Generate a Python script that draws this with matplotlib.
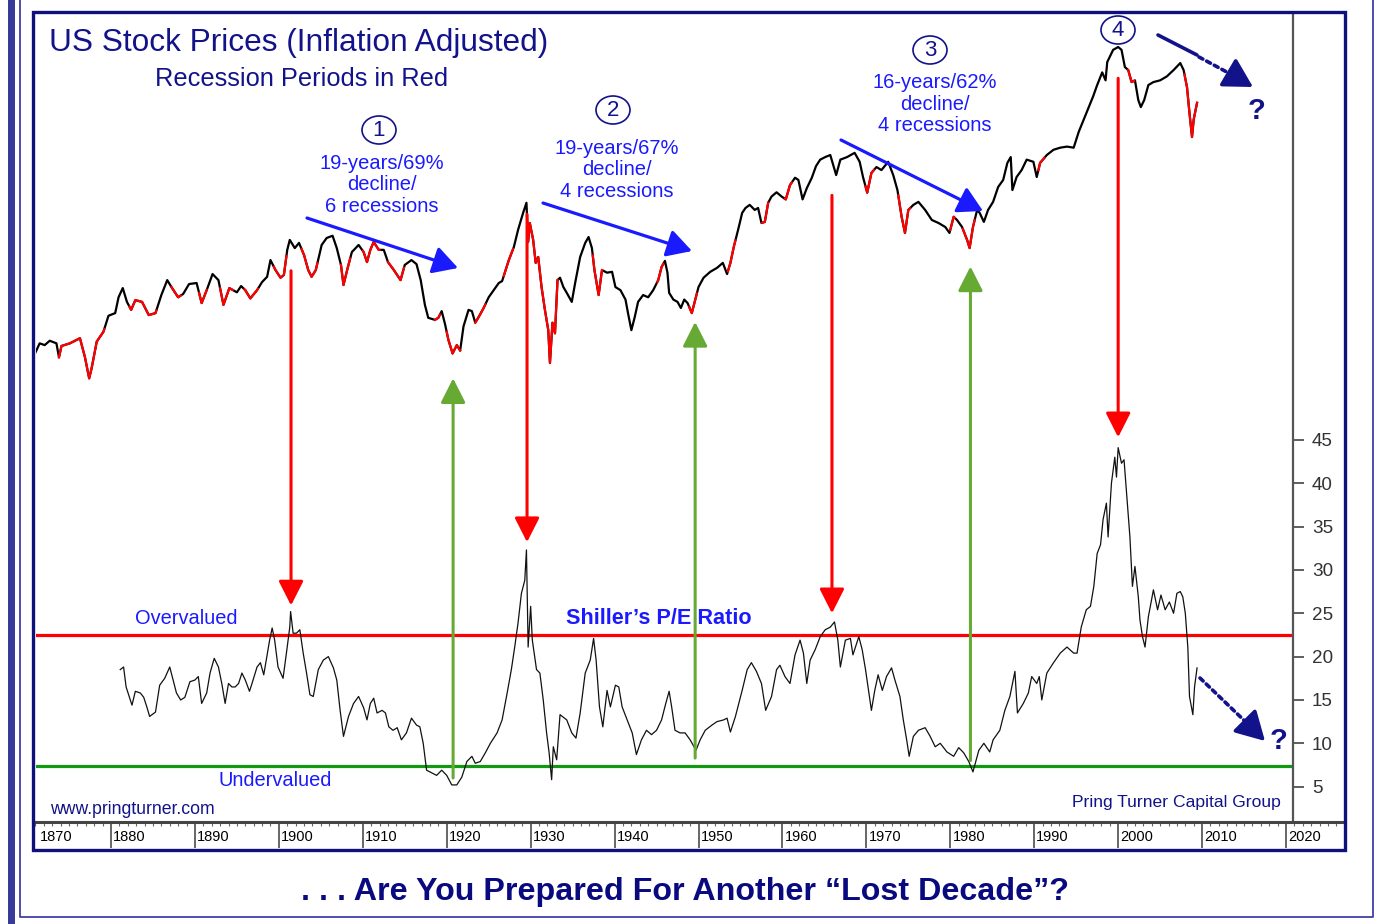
import numpy as np
import matplotlib
matplotlib.use("Agg")
import matplotlib.pyplot as plt
from matplotlib.patches import Rectangle, Ellipse, FancyArrowPatch
from matplotlib.lines import Line2D
from matplotlib import font_manager

# ---------------- data ----------------
price_years = [1871.0, 1871.5, 1872.1, 1872.7, 1873.5, 1873.8, 1874.1, 1875.1, 1876.3, 1876.9,
               1877.4, 1877.7, 1878.3, 1879.1, 1879.7, 1880.5, 1880.9, 1881.4, 1881.9, 1882.4,
               1882.9, 1883.7, 1884.5, 1885.3, 1886.0, 1886.7, 1887.2, 1888.0, 1888.6, 1889.3,
               1890.2, 1890.8, 1891.4, 1892.1, 1892.8, 1893.4, 1894.1, 1895.0, 1895.5, 1896.0,
               1896.6, 1897.4, 1898.0, 1898.6, 1899.0, 1899.6, 1900.2, 1900.6, 1901.0, 1901.3,
               1901.9, 1902.4, 1903.0, 1903.5, 1903.9, 1904.4, 1905.1, 1905.7, 1906.4, 1906.9,
               1907.4, 1907.7, 1908.2, 1908.7, 1909.5, 1910.1, 1910.5, 1910.9, 1911.3, 1911.9,
               1912.5, 1913.0, 1913.7, 1914.5, 1915.0, 1915.8, 1916.4, 1916.9, 1917.4, 1917.8,
               1918.6, 1919.0, 1919.4, 1919.8, 1920.2, 1920.7, 1921.2, 1921.6, 1922.0, 1922.6,
               1923.0, 1923.4, 1923.8, 1924.4, 1925.0, 1925.6, 1926.2, 1926.6, 1927.4, 1928.0,
               1928.5, 1929.1, 1929.5, 1929.7, 1929.9, 1930.3, 1930.6, 1930.9, 1931.3, 1931.7,
               1932.1, 1932.3, 1932.6, 1932.9, 1933.2, 1933.5, 1933.9, 1934.3, 1934.9, 1935.3,
               1935.9, 1936.5, 1936.9, 1937.3, 1937.6, 1938.1, 1938.5, 1939.1, 1939.7, 1940.1,
               1940.7, 1941.3, 1941.6, 1942.0, 1942.4, 1942.8, 1943.4, 1944.0, 1944.6, 1945.2,
               1945.6, 1946.0, 1946.3, 1946.5, 1947.0, 1947.5, 1947.9, 1948.3, 1948.7, 1949.2,
               1949.6, 1950.0, 1950.6, 1951.4, 1952.2, 1952.9, 1953.4, 1953.8, 1954.2, 1954.8,
               1955.2, 1955.6, 1956.1, 1956.7, 1957.1, 1957.5, 1957.9, 1958.3, 1958.7, 1959.3,
               1959.9, 1960.4, 1960.9, 1961.5, 1961.9, 1962.4, 1962.9, 1963.5, 1964.0, 1964.5,
               1965.1, 1965.7, 1966.4, 1966.9, 1967.7, 1968.6, 1969.2, 1969.6, 1970.1, 1970.6,
               1971.2, 1971.8, 1972.6, 1973.2, 1973.7, 1974.2, 1974.6, 1975.0, 1975.6, 1976.2,
               1977.0, 1977.8, 1978.6, 1979.4, 1979.9, 1980.4, 1980.8, 1981.4, 1982.0, 1982.3,
               1982.7, 1983.2, 1983.5, 1984.0, 1984.5, 1985.1, 1985.7, 1986.3, 1986.8, 1987.2,
               1987.4, 1987.9, 1988.5, 1989.1, 1989.9, 1990.3, 1990.7, 1991.5, 1992.3, 1993.1,
               1993.9, 1994.7, 1995.3, 1995.9, 1996.5, 1997.0, 1997.5, 1998.1, 1998.5, 1998.7,
               1999.4, 2000.0, 2000.4, 2000.8, 2001.2, 2001.6, 2002.0, 2002.4, 2002.7, 2003.1,
               2003.6, 2004.2, 2005.0, 2005.8, 2006.6, 2007.4, 2007.8, 2008.2, 2008.5, 2008.8,
               2009.0, 2009.4]
price_values = [110, 120, 118, 123, 120, 105, 117, 120, 126, 105,
                86, 95, 122, 134, 156, 160, 186, 203, 178, 165,
                181, 178, 157, 160, 190, 219, 205, 186, 192, 211,
                213, 176, 199, 232, 219, 173, 203, 195, 207, 199,
                184, 199, 215, 226, 265, 241, 224, 230, 292, 321,
                297, 312, 278, 241, 226, 241, 306, 327, 334, 297,
                253, 209, 246, 286, 306, 286, 260, 292, 315, 292,
                292, 260, 241, 219, 253, 265, 255, 219, 173, 153,
                150, 153, 163, 144, 124, 109, 118, 112, 141, 165,
                163, 146, 154, 168, 186, 199, 213, 217, 265, 300,
                353, 415, 457, 315, 377, 321, 258, 273, 205, 165,
                136, 99.5, 146, 132, 219, 224, 205, 194, 178, 213,
                273, 312, 330, 297, 241, 190, 241, 235, 237, 205,
                199, 182, 160, 136, 154, 178, 190, 186, 199, 219,
                248, 263, 235, 194, 182, 178, 168, 182, 176, 160,
                181, 205, 224, 237, 246, 258, 232, 258, 300, 363,
                415, 435, 448, 427, 435, 377, 381, 457, 485, 505,
                485, 472, 541, 580, 568, 472, 525, 580, 648, 689,
                706, 720, 595, 689, 706, 735, 675, 584, 503, 607,
                642, 624, 675, 595, 516, 400, 343, 427, 448, 461,
                427, 388, 377, 363, 343, 400, 388, 363, 321, 297,
                363, 427, 415, 381, 427, 461, 531, 568, 668, 706,
                516, 584, 624, 689, 675, 584, 668, 720, 757, 772,
                780, 772, 897, 1010, 1136, 1253, 1401, 1580, 1465, 1744,
                1958, 2012, 1958, 1663, 1615, 1441, 1465, 1214, 1136, 1214,
                1401, 1441, 1465, 1521, 1615, 1727, 1615, 1374, 1072, 854,
                1010, 1183]

pe_years = [1881.1, 1881.5, 1881.8, 1882.5, 1882.9, 1883.5, 1883.9, 1884.3, 1884.6, 1885.3,
            1885.8, 1886.4, 1887.0, 1887.4, 1887.8, 1888.3, 1888.8, 1889.4, 1890.0, 1890.4,
            1890.8, 1891.4, 1891.8, 1892.3, 1892.8, 1893.2, 1893.6, 1894.0, 1894.4, 1894.8,
            1895.2, 1895.6, 1896.0, 1896.5, 1896.8, 1897.4, 1897.8, 1898.2, 1898.6, 1898.9,
            1899.2, 1899.5, 1899.9, 1900.5, 1900.9, 1901.3, 1901.4, 1901.7, 1902.1, 1902.5,
            1902.9, 1903.3, 1903.7, 1904.1, 1904.7, 1905.3, 1905.9, 1906.5, 1906.9, 1907.3,
            1907.7, 1908.3, 1908.9, 1909.5, 1910.1, 1910.5, 1910.9, 1911.3, 1911.7, 1912.3,
            1912.7, 1913.1, 1913.6, 1914.1, 1914.6, 1915.2, 1915.8, 1916.4, 1916.8, 1917.2,
            1917.6, 1918.2, 1918.8, 1919.4, 1920.0, 1920.6, 1921.2, 1921.8, 1922.4, 1923.0,
            1923.4, 1924.0, 1924.6, 1925.2, 1926.0, 1926.6, 1927.2, 1927.7, 1928.1, 1928.5,
            1928.9, 1929.3, 1929.5, 1929.7, 1930.0, 1930.2, 1930.7, 1931.1, 1931.5, 1931.9,
            1932.2, 1932.5, 1932.7, 1933.1, 1933.5, 1934.3, 1934.9, 1935.4, 1935.9, 1936.5,
            1937.1, 1937.5, 1937.8, 1938.2, 1938.6, 1939.1, 1939.5, 1940.1, 1940.5, 1940.9,
            1941.5, 1942.1, 1942.6, 1943.2, 1943.8, 1944.4, 1945.0, 1945.6, 1946.1, 1946.5,
            1946.8, 1947.2, 1947.8, 1948.4, 1949.0, 1949.7, 1950.2, 1950.8, 1951.6, 1952.2,
            1953.0, 1953.4, 1953.8, 1954.4, 1955.2, 1955.8, 1956.3, 1956.9, 1957.5, 1958.0,
            1958.7, 1959.3, 1959.7, 1960.3, 1960.9, 1961.5, 1962.1, 1962.5, 1962.9, 1963.3,
            1963.9, 1964.5, 1965.1, 1965.7, 1966.2, 1966.6, 1966.9, 1967.5, 1968.1, 1968.4,
            1969.1, 1969.5, 1969.9, 1970.2, 1970.6, 1971.0, 1971.4, 1971.9, 1972.4, 1973.0,
            1973.4, 1974.0, 1974.4, 1974.8, 1975.1, 1975.6, 1976.2, 1977.0, 1977.6, 1978.2,
            1978.8, 1979.6, 1980.4, 1981.0, 1981.6, 1982.2, 1982.7, 1983.4, 1984.0, 1984.7,
            1985.1, 1985.9, 1986.5, 1987.1, 1987.7, 1988.0, 1988.7, 1989.3, 1989.7, 1990.3,
            1990.6, 1990.9, 1991.5, 1992.3, 1993.1, 1993.9, 1994.7, 1995.1, 1995.6, 1996.2,
            1996.7, 1997.1, 1997.5, 1997.9, 1998.2, 1998.6, 1998.8, 1999.2, 1999.6, 1999.8,
            2000.0, 2000.4, 2000.7, 2001.0, 2001.4, 2001.7, 2002.0, 2002.4, 2002.6, 2002.9,
            2003.2, 2003.6, 2004.2, 2004.7, 2005.1, 2005.6, 2006.1, 2006.6, 2007.0, 2007.4,
            2007.7, 2008.0, 2008.3, 2008.5, 2008.9, 2009.1, 2009.4]
pe_values = [18.5, 18.8, 16.5, 14.4, 16.0, 15.8, 15.3, 14.1, 13.1, 13.6,
             16.7, 17.5, 18.8, 17.3, 15.8, 15.0, 15.3, 17.1, 17.3, 17.7,
             14.6, 15.8, 18.1, 19.8, 18.8, 16.9, 14.6, 16.9, 16.5, 16.5,
             16.9, 18.1, 17.3, 16.0, 16.9, 18.8, 19.3, 17.9, 20.2, 21.9,
             23.3, 21.9, 18.8, 17.5, 20.4, 23.4, 25.2, 22.7, 22.7, 23.1,
             20.4, 18.1, 15.6, 15.4, 18.5, 19.6, 20.0, 18.7, 17.3, 13.8,
             10.8, 13.1, 14.6, 15.4, 14.1, 12.7, 14.6, 15.2, 13.5, 13.8,
             13.5, 11.9, 11.5, 11.8, 10.4, 11.2, 12.9, 12.1, 11.9, 10.0,
             6.9, 6.6, 6.3, 6.9, 6.3, 5.2, 5.2, 6.1, 7.9, 8.5,
             7.7, 7.9, 8.9, 10.0, 11.2, 12.7, 15.8, 18.5, 21.1, 23.9,
             27.3, 28.8, 32.3, 21.1, 25.8, 21.9, 18.5, 18.1, 15.0, 11.2,
             8.9, 5.8, 9.6, 8.1, 13.3, 12.7, 11.2, 10.6, 13.5, 18.1,
             19.6, 22.1, 19.6, 14.2, 11.9, 16.1, 14.2, 16.7, 16.5, 14.2,
             12.7, 11.2, 8.7, 10.4, 11.5, 11.0, 11.5, 12.7, 14.6, 16.0,
             14.2, 11.5, 11.2, 11.2, 10.4, 9.2, 10.4, 11.5, 12.1, 12.5,
             12.7, 12.9, 11.3, 13.1, 16.1, 18.5, 19.3, 18.3, 16.9, 13.8,
             15.4, 18.5, 19.0, 17.7, 16.9, 20.2, 21.9, 20.4, 16.9, 19.6,
             20.8, 22.3, 23.1, 23.4, 24.0, 21.9, 18.8, 21.9, 22.1, 20.2,
             22.3, 20.8, 18.5, 16.5, 13.8, 16.1, 17.9, 16.1, 17.7, 18.7,
             17.3, 15.4, 12.7, 10.4, 8.5, 10.8, 11.5, 11.8, 10.8, 9.6,
             10.0, 9.0, 8.5, 9.5, 8.9, 7.9, 6.7, 9.2, 10.0, 9.0,
             10.4, 11.5, 13.8, 15.4, 18.3, 13.5, 14.6, 15.8, 17.7, 16.9,
             17.7, 15.0, 18.1, 19.3, 20.4, 21.1, 20.4, 20.4, 23.4, 25.4,
             25.8, 28.1, 31.9, 32.9, 35.8, 37.7, 33.8, 40.0, 43.0, 40.7,
             44.1, 42.3, 42.7, 38.9, 33.8, 28.1, 30.4, 26.9, 24.2, 22.3,
             21.1, 24.6, 27.7, 25.4, 27.1, 25.4, 26.3, 25.0, 27.3, 27.5,
             26.9, 25.0, 21.1, 15.4, 13.3, 16.5, 18.7]

# NBER recessions (start, end) in decimal years
recession_starts = [1873.8, 1882.2, 1887.2, 1890.5, 1893.0, 1895.9, 1899.4, 1902.7, 1907.4,
                    1910.0, 1913.0, 1918.6, 1920.0, 1923.4, 1926.8, 1929.6, 1937.4, 1945.1,
                    1948.9, 1953.5, 1957.6, 1960.3, 1969.9, 1973.8, 1980.0, 1981.5, 1990.5,
                    2001.2, 2007.9]
recession_ends = [1879.2, 1885.4, 1888.3, 1891.4, 1894.5, 1897.5, 1900.9, 1904.6, 1908.5,
                  1912.0, 1914.9, 1919.2, 1921.6, 1924.6, 1927.9, 1933.2, 1938.5, 1945.8,
                  1949.8, 1954.4, 1958.3, 1961.1, 1970.9, 1975.2, 1980.5, 1982.9, 1991.2,
                  2001.9, 2009.5]

overvalued_pe = 22.5
undervalued_pe = 7.4
pe_ticks = [5, 10, 15, 20, 25, 30, 35, 40, 45]
decade_labels = [1870, 1880, 1890, 1900, 1910, 1920, 1930, 1940, 1950,
                 1960, 1970, 1980, 1990, 2000, 2010, 2020]

# secular peaks / troughs (year, P/E at arrow tip, P/E at arrow tail)
peak_years = [1901.45, 1929.57, 1965.9, 2000.0]
peak_tips = [25.9, 33.2, 25.0, 45.3]
peak_tails = [64.5, 71.0, 73.2, 86.7]
trough_years = [1920.76, 1949.6, 1982.4]
trough_tips = [52.1, 58.6, 65.0]
trough_tails = [6.0, 8.3, 8.0]

# ---------------- style ----------------
W, H = 1376, 924
names = {f.name for f in font_manager.fontManager.ttflist}
SANS = 'Liberation Sans' if 'Liberation Sans' in names else 'DejaVu Sans'
NARROW = 'Liberation Sans Narrow' if 'Liberation Sans Narrow' in names else SANS
narrow_scale = 1.0 if NARROW != SANS else 0.85
plt.rcParams['font.family'] = [SANS, 'DejaVu Sans']

NAVY = '#12128a'
BLUE = '#1a1aff'
RED = '#ff0000'
GREEN_LINE = '#119911'
GREEN_ARROW = '#66aa33'


def F(x, y):
    return (x / W, 1 - y / H)


fig = plt.figure(figsize=(W / 100, H / 100), dpi=100)
fig.patch.set_facecolor('white')


def yr_px(px):
    return 1870 + (px - 27.07) / 8.393


ax_l, ax_r, ax_t, ax_b = 36, 1293, 14, 822
ax = fig.add_axes([ax_l / W, 1 - ax_b / H, (ax_r - ax_l) / W, (ax_b - ax_t) / H])
ax.set_xlim(yr_px(ax_l), yr_px(ax_r))
ax.set_ylim((830 - ax_b) / 8.67, (830 - ax_t) / 8.67)
ax.patch.set_visible(False)

# price axis (log) - created first so the P/E ticks can stay on the right
axp = ax.twinx()
axp.set_yscale('log')
axp.set_ylim(1.263, 2754)
axp.set_xlim(ax.get_xlim())
axp.axis('off')

for s in ['left', 'top', 'bottom']:
    ax.spines[s].set_visible(False)
ax.spines['right'].set_visible(True)
ax.spines['right'].set_color('#555555')
ax.spines['right'].set_linewidth(1.6)
ax.yaxis.tick_right()
ax.set_yticks(pe_ticks)
ax.set_yticklabels([str(t) for t in pe_ticks])
ax.tick_params(axis='y', which='both', left=False, labelleft=False, right=True,
               labelright=True, direction='out', length=8, width=1.2, color='#444444',
               labelcolor='#333333', labelsize=16 * narrow_scale, pad=5.5)
for lbl in ax.get_yticklabels():
    lbl.set_fontfamily(NARROW)
    lbl.set_fontsize(16 * narrow_scale)
ax.set_xticks([])

# P/E series
ax.plot(pe_years, pe_values, color='#111111', lw=0.9, zorder=3)

# valuation lines
ax.axhline(overvalued_pe, color=RED, lw=2.3, zorder=2)
ax.axhline(undervalued_pe, color=GREEN_LINE, lw=2.3, zorder=2)

py = np.array(price_years)
pv = np.array(price_values)
axp.plot(py, pv, color='black', lw=1.6, zorder=4, solid_joinstyle='round')
for s, e in zip(recession_starts, recession_ends):
    e = min(e, py[-1])
    mask = (py > s) & (py < e)
    xs = np.concatenate([[s], py[mask], [e]])
    ys = np.exp(np.interp(xs, py, np.log(pv)))
    axp.plot(xs, ys, color=RED, lw=1.6, zorder=5, solid_joinstyle='round')

# vertical arrows (drawn on P/E axis, data coords)
for yr, tip, tail in zip(peak_years, peak_tips, peak_tails):
    axp.annotate('', xy=(yr, tip), xytext=(yr, tail), xycoords=ax.transData,
                 textcoords=ax.transData, zorder=6,
                 arrowprops=dict(arrowstyle='-|>,head_length=0.75,head_width=0.38',
                                 color=RED, lw=2.2, mutation_scale=20,
                                 shrinkA=0, shrinkB=0))
for yr, tip, tail in zip(trough_years, trough_tips, trough_tails):
    axp.annotate('', xy=(yr, tip), xytext=(yr, tail), xycoords=ax.transData,
                 textcoords=ax.transData, zorder=6,
                 arrowprops=dict(arrowstyle='-|>,head_length=0.75,head_width=0.38',
                                 color=GREEN_ARROW, lw=2.2, mutation_scale=20,
                                 shrinkA=0, shrinkB=0))

# ---------------- ruler (x axis) ----------------
r_l, r_r, r_t, r_b = 33, 1345, 822, 850
axr = fig.add_axes([r_l / W, 1 - r_b / H, (r_r - r_l) / W, (r_b - r_t) / H])
axr.set_xlim(yr_px(r_l), yr_px(r_r))
axr.set_ylim(0, 1)
axr.set_yticks([])
for s in ['left', 'right', 'bottom']:
    axr.spines[s].set_visible(False)
axr.spines['top'].set_color('#444444')
axr.spines['top'].set_linewidth(2.2)
axr.xaxis.set_ticks_position('top')
axr.set_xticks([d for d in decade_labels if d > 1870])
axr.set_xticklabels([])
axr.set_xticks(np.arange(1871, 2027), minor=True)
axr.tick_params(axis='x', which='major', direction='in', length=19, width=1.4,
                color='#666666')
axr.tick_params(axis='x', which='minor', direction='in', length=3, width=0.8,
                color='#666666')
for d in decade_labels:
    xpos = max(d, yr_px(38)) + 0.25
    axr.text(xpos, 0.45, str(d), ha='left', va='center', fontsize=10.5,
             color='black', family=SANS)

# ---------------- frames ----------------
fig.add_artist(Rectangle(F(8, 930), 7 / W, 940 / H, transform=fig.transFigure,
                         facecolor='#3a3a98', edgecolor='none', zorder=0))
fig.add_artist(Line2D([20 / W, 20 / W, 1373 / W, 1373 / W],
                      [1.01, 1 - 917 / H, 1 - 917 / H, 1.01],
                      transform=fig.transFigure, color='#4040a8', lw=1.3))
fig.add_artist(Rectangle(F(33, 850), (1345 - 33) / W, (850 - 12) / H,
                         transform=fig.transFigure, facecolor='none',
                         edgecolor='#10107a', lw=2.4, zorder=10))

# ---------------- texts ----------------
fig.text(*F(49, 43), 'US Stock Prices (Inflation Adjusted)', fontsize=22.8,
         color=NAVY, ha='left', va='center')
fig.text(*F(302, 79), 'Recession Periods in Red', fontsize=18.3,
         color=NAVY, ha='center', va='center')

circles = [('1', 379, 130), ('2', 613, 110), ('3', 930, 50), ('4', 1118, 30)]
for lab, cx, cy in circles:
    fig.add_artist(Ellipse(F(cx, cy), 34 / W, 28 / H, transform=fig.transFigure,
                           facecolor='white', edgecolor=NAVY, lw=1.2, zorder=11))
    fig.text(*F(cx, cy + 1), lab, fontsize=16, color=NAVY, ha='center',
             va='center', zorder=12)

notes = [('19-years/69%\ndecline/\n6 recessions', 382, 185),
         ('19-years/67%\ndecline/\n4 recessions', 617, 170),
         ('16-years/62%\ndecline/\n4 recessions', 935, 104)]
for txt, cx, cy in notes:
    fig.text(*F(cx, cy), txt, fontsize=14.5, color=BLUE, ha='center', va='center',
             linespacing=1.16)

blue_arrows = [((307, 218), (458, 268)), ((543, 203), (692, 251)), ((841, 140), (983, 211))]
for (x0, y0), (x1, y1) in blue_arrows:
    fig.add_artist(FancyArrowPatch(
        F(x0, y0), F(x1, y1), transform=fig.transFigure,
        arrowstyle='-|>,head_length=0.75,head_width=0.42', mutation_scale=20,
        color=BLUE, lw=2.3, shrinkA=0, shrinkB=0, zorder=11))


def dotted_arrow(p0, pmid, p1):
    fig.add_artist(Line2D([F(*p0)[0], F(*pmid)[0]], [F(*p0)[1], F(*pmid)[1]],
                          transform=fig.transFigure, color=NAVY, lw=2.6,
                          linestyle=(0, (1.2, 1.2)), dash_capstyle='round', zorder=11))
    fig.add_artist(FancyArrowPatch(
        F(*pmid), F(*p1), transform=fig.transFigure,
        arrowstyle='-|>,head_length=0.8,head_width=0.45', mutation_scale=22,
        color=NAVY, lw=2.6, shrinkA=0, shrinkB=0, zorder=11))


fig.add_artist(Line2D([F(1158, 35)[0], F(1197, 55)[0]], [F(1158, 35)[1], F(1197, 55)[1]],
                      transform=fig.transFigure, color=NAVY, lw=2.6, zorder=11,
                      solid_capstyle='round'))
dotted_arrow((1199, 57), (1236, 77), (1253, 87))
dotted_arrow((1200, 678), (1252, 728), (1265, 741))
fig.text(*F(1257, 111), '?', fontsize=21, color=NAVY, weight='bold', ha='center', va='center')
fig.text(*F(1279, 741), '?', fontsize=21, color=NAVY, weight='bold', ha='center', va='center')

fig.text(*F(135, 618), 'Overvalued', fontsize=17 * narrow_scale, color=BLUE,
         family=NARROW, ha='left', va='center')
fig.text(*F(219, 781), 'Undervalued', fontsize=17 * narrow_scale, color=BLUE,
         family=NARROW, ha='left', va='center')
fig.text(*F(566, 618), 'Shiller\u2019s P/E Ratio', fontsize=18.3 * narrow_scale, color=BLUE,
         family=NARROW, weight='bold', ha='left', va='center')
fig.text(*F(50, 810), 'www.pringturner.com', fontsize=14.9 * narrow_scale, color=NAVY,
         family=NARROW, ha='left', va='center')
fig.text(*F(1281, 803), 'Pring Turner Capital Group', fontsize=14.8 * narrow_scale,
         color=NAVY, family=NARROW, ha='right', va='center')

fig.text(*F(685, 892), '. . . Are You Prepared For Another \u201cLost Decade\u201d?',
         fontsize=23.2, color='#0a0a80', weight='bold', ha='center', va='center')

fig.savefig('out.png', dpi=100, facecolor='white')
